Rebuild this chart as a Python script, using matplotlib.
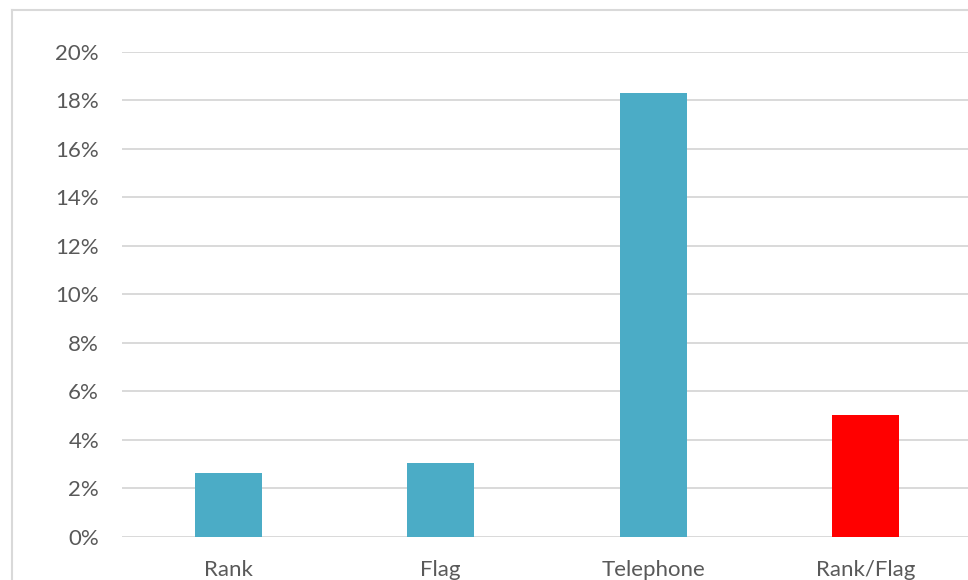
import matplotlib
matplotlib.use("Agg")
import matplotlib.pyplot as plt
from matplotlib.lines import Line2D
from matplotlib.ticker import FuncFormatter

categories = ["Rank", "Flag", "Telephone", "Rank/Flag"]
values = [2.61, 3.05, 18.28, 5.02]  # percent
bar_colors = ["#4BACC6", "#4BACC6", "#4BACC6", "#FF0000"]
y_ticks = [0, 2, 4, 6, 8, 10, 12, 14, 16, 18, 20]

W, H = 968, 580
plt.rcParams["font.family"] = ["Lato", "DejaVu Sans"]
fig = plt.figure(figsize=(W / 100, H / 100), dpi=100)
fig.patch.set_facecolor("white")

# chart area outline (left and top edges visible)
border = "#D9D9D9"
fig.add_artist(Line2D([11.5 / W, 11.5 / W], [0, 1 - 10 / H], transform=fig.transFigure,
                      color=border, lw=1.5))
fig.add_artist(Line2D([11.5 / W, 1], [1 - 10 / H, 1 - 10 / H], transform=fig.transFigure,
                      color=border, lw=1.5))

left, right = 122, 972
top, bottom = 51.7, 536.7
ax = fig.add_axes([left / W, 1 - bottom / H, (right - left) / W, (bottom - top) / H])
ax.set_facecolor("none")

x = range(len(categories))
ax.bar(x, values, width=0.314, color=bar_colors, zorder=3)

ax.set_xlim(-0.5, len(categories) - 0.5)
ax.set_ylim(0, 20)
ax.set_yticks(y_ticks)
ax.yaxis.set_major_formatter(FuncFormatter(lambda v, _: f"{v:.0f}%"))
ax.set_xticks(list(x))
ax.set_xticklabels(categories)

ax.grid(axis="y", color="#D9D9D9", lw=1.4, zorder=0)
ax.grid(axis="x", visible=False)
for s in ax.spines.values():
    s.set_visible(False)

ax.tick_params(axis="y", length=0, pad=16.5, labelsize=16, labelcolor="#595959")
ax.tick_params(axis="x", length=0, pad=16.5, labelsize=16, labelcolor="#595959")

fig.savefig("out.png", dpi=100)
